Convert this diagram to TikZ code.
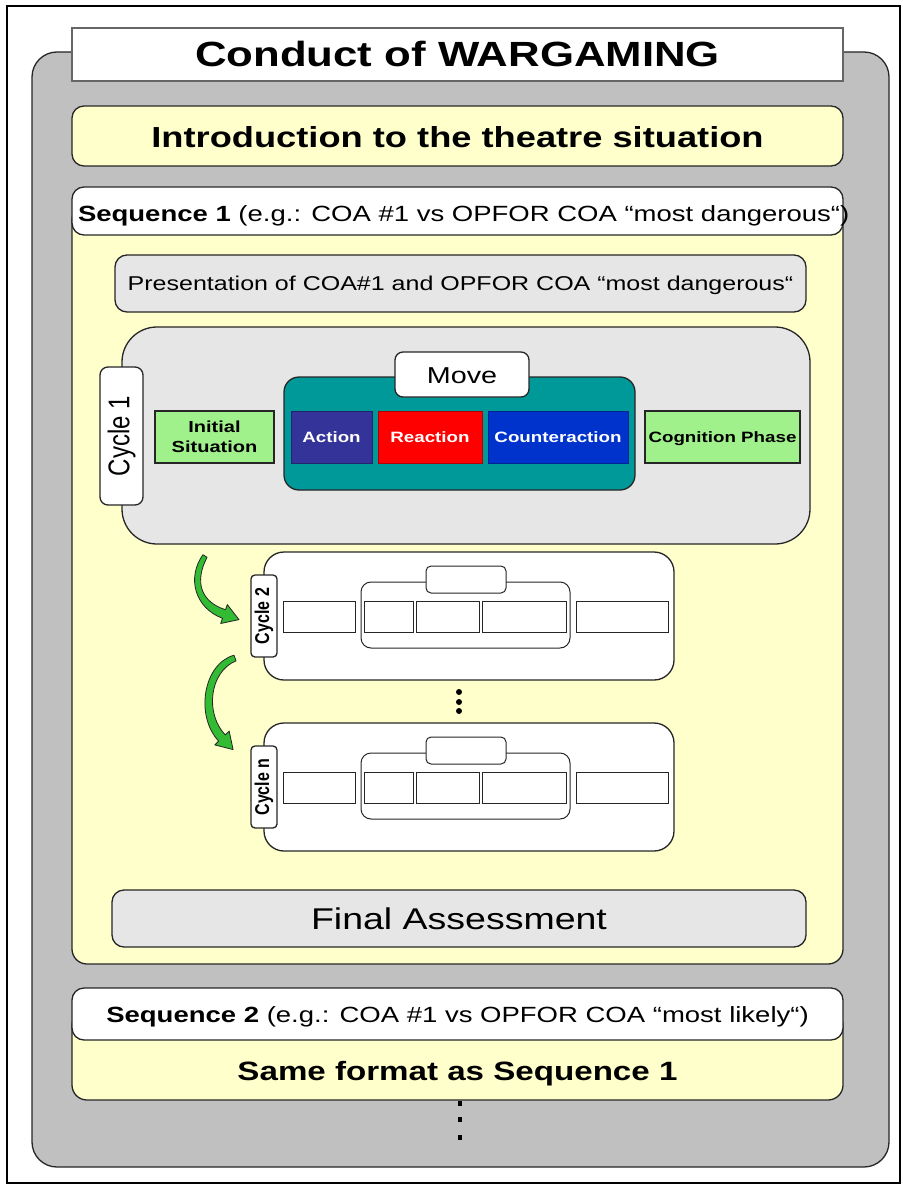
\documentclass[tikz,border=0pt]{standalone}
\usepackage{fontspec}
\setmainfont{Liberation Sans}
\usepackage{graphicx}

\definecolor{framegray}{HTML}{C0C0C0}
\definecolor{cream}{HTML}{FFFFCC}
\definecolor{pale}{HTML}{E6E6E6}
\definecolor{movecol}{HTML}{009999}
\definecolor{actcol}{HTML}{333399}
\definecolor{reactcol}{HTML}{FF0000}
\definecolor{countercol}{HTML}{0033CC}
\definecolor{phasegreen}{HTML}{A0F08C}
\definecolor{arrowgreen}{HTML}{33BB33}
\definecolor{edge}{HTML}{262626}

% slide text is set wider than the face's own proportions
\newcommand{\wide}[1]{\scalebox{1.25}[1]{#1}}
\newcommand{\tall}[1]{\scalebox{1}[1.25]{#1}}
\newcommand{\fs}[1]{\fontsize{#1}{#1}\selectfont}

\tikzset{
  every node/.style={inner sep=0pt, outer sep=0pt},
  rbox/.style={draw=edge, line width=1.3pt, rounded corners=#1pt},
  sbox/.style={draw=edge, line width=1.1pt},
  thinbox/.style={draw=edge, line width=1pt, fill=white},
  phase/.style={minimum height=52, line width=0.6pt},
  txt/.style={anchor=base, inner sep=0pt},
  greenarrow/.style={fill=arrowgreen, draw=edge, line width=0.8pt, line join=round},
  dot/.style={circle, fill=black, minimum size=6},
  tick/.style={rectangle, fill=black, minimum width=4, minimum height=5},
}

% a compact cycle: outer box, side tag, move frame and empty phase slots
\newcommand{\minicycle}[3]{%
  \node[rbox=20, fill=white, minimum width=410, minimum height=128] (#1box) at (469,616+#2) {};
  \node[rbox=4, fill=white, rotate=90, minimum width=82, minimum height=26] (#1tag) at (264,616+#2)
       {\fs{16}\bfseries\tall{#3}};
  \node[thinbox, minimum width=72, minimum height=31] (#1init) at (319,616.5+#2) {};
  \node[thinbox, rounded corners=10pt, minimum width=209, minimum height=66] (#1move) at (465.5,615+#2) {};
  \node[thinbox, rounded corners=5pt, minimum width=80, minimum height=27] (#1movetag) at (466,579.5+#2) {};
  \node[thinbox, minimum width=49, minimum height=31] (#1act) at (388.5,616.5+#2) {};
  \node[thinbox, minimum width=63, minimum height=31] (#1react) at (447.5,616.5+#2) {};
  \node[thinbox, minimum width=84, minimum height=31] (#1counter) at (524,616.5+#2) {};
  \node[thinbox, minimum width=92, minimum height=31] (#1cog) at (622,616.5+#2) {};
}

\begin{document}
\begin{tikzpicture}[x=1pt, y=-1pt]
\useasboundingbox (0,0) rectangle (902,1185);
\fill[white] (0,0) rectangle (902,1185);

% page frame
\node[draw=black, line width=2pt, minimum width=893, minimum height=1177] (page) at (453.5,594.5) {};

% grey container and its title strip
\node[rbox=25, fill=framegray, minimum width=857, minimum height=1115] (wargame) at (460.5,609.5) {};
\node[draw=black!60, line width=1.3pt, fill=white, minimum width=771, minimum height=53] (title) at (457.5,54.5) {};
\node[txt] (titletext) at (457.5,67) {\fs{35}\bfseries\wide{Conduct of WARGAMING}};

% introduction
\node[rbox=12, fill=cream, minimum width=771, minimum height=60] (intro) at (457.5,136) {};
\node[txt] (introtext) at (457.5,148) {\fs{29}\bfseries\wide{Introduction to the theatre situation}};

% sequence 1
\node[rbox=15, fill=cream, minimum width=771, minimum height=759] (seqonebody) at (457.5,584.5) {};
\node[rbox=12, fill=white, minimum width=771, minimum height=48] (seqonehead) at (457.5,211) {};
\node[txt, anchor=base west] (seqonetext) at (78,221)
  {\fs{22}\wide{\bfseries Sequence 1\mdseries{} (e.g.: COA \#1 vs OPFOR COA “most dangerous“)}};

\node[rbox=12, fill=pale, minimum width=691, minimum height=57] (present) at (460.5,283.5) {};
\node[txt] (presenttext) at (460.5,290.5) {\fs{20}\wide{Presentation of COA\#1 and OPFOR COA “most dangerous“}};

% cycle 1 in full
\node[rbox=35, fill=pale, minimum width=688, minimum height=217] (cycleone) at (466,435.5) {};
\node[rbox=8, fill=white, rotate=90, minimum width=138, minimum height=43] (cycleonetag) at (121.5,436)
  {\fs{24}\tall{Cycle 1}};
\node[sbox, fill=phasegreen, minimum width=119, minimum height=52, align=center,
      font={\fontsize{16}{20}\selectfont\bfseries}] (initial) at (214.5,437)
  {\wide{Initial}\\\wide{Situation}};
\node[rbox=15, fill=movecol, minimum width=351, minimum height=113] (move) at (459.5,433.5) {};
\node[rbox=8, fill=white, minimum width=134, minimum height=45] (movetag) at (462,374.5) {};
\node[txt] (movetext) at (462,383) {\fs{23}\wide{Move}};
\node[phase, fill=actcol, draw=actcol!70!black, minimum width=81] (action) at (331.5,437) {};
\node[phase, fill=reactcol, draw=reactcol!70!black, minimum width=104] (reaction) at (430,437) {};
\node[phase, fill=countercol, draw=countercol!70!black, minimum width=140] (counter) at (558,437) {};
\node[sbox, fill=phasegreen, minimum width=155, minimum height=52] (cognition) at (722.5,437) {};
\node[txt, text=white] (actiontext) at (331.5,442.5) {\fs{15}\bfseries\wide{Action}};
\node[txt, text=white] (reactiontext) at (430,442.5) {\fs{15}\bfseries\wide{Reaction}};
\node[txt, text=white] (countertext) at (558,442.5) {\fs{15}\bfseries\wide{Counteraction}};
\node[txt] (cognitiontext) at (722.5,442.5) {\fs{15}\bfseries\wide{Cognition Phase}};

% later cycles in outline
\minicycle{ctwo}{0}{Cycle 2}
\minicycle{cn}{171}{Cycle n}

\node[dot] (gapa) at (459,692) {};
\node[dot] (gapb) at (459,702) {};
\node[dot] (gapc) at (459,711) {};

% curved hand-over arrows between cycles
\filldraw[greenarrow] (202.9,554.7) .. controls (186.5,578) and (195,608) .. (222.5,618.3)
  -- (220.7,623.5) -- (239,619.6) -- (227.3,604.6) -- (225.5,609.7)
  .. controls (201,602) and (194,582) .. (207.1,557.3) -- cycle;
\filldraw[greenarrow] (234,655.2) .. controls (203,664) and (195,716) .. (218.7,741.1)
  -- (214.8,744.9) -- (233.1,749.6) -- (229.2,731.1) -- (225.3,734.9)
  .. controls (205,714) and (209,672) .. (236,660.8) -- cycle;

\node[rbox=12, fill=pale, minimum width=694, minimum height=57] (final) at (459,918.5) {};
\node[txt] (finaltext) at (459,929.5) {\fs{30}\wide{Final Assessment}};

% sequence 2
\node[rbox=15, fill=cream, minimum width=771, minimum height=90] (seqtwobody) at (457.5,1055) {};
\node[rbox=12, fill=white, minimum width=771, minimum height=52] (seqtwohead) at (457.5,1014) {};
\node[txt] (seqtwotext) at (457.5,1022.5)
  {\fs{22}\wide{\bfseries Sequence 2\mdseries{} (e.g.: COA \#1 vs OPFOR COA “most likely“)}};
\node[txt] (sametext) at (457.5,1080) {\fs{26.5}\bfseries\wide{Same format as Sequence 1}};

\node[tick] (morea) at (460,1103) {};
\node[tick] (moreb) at (460,1119) {};
\node[tick] (morec) at (460,1137) {};
\end{tikzpicture}
\end{document}
